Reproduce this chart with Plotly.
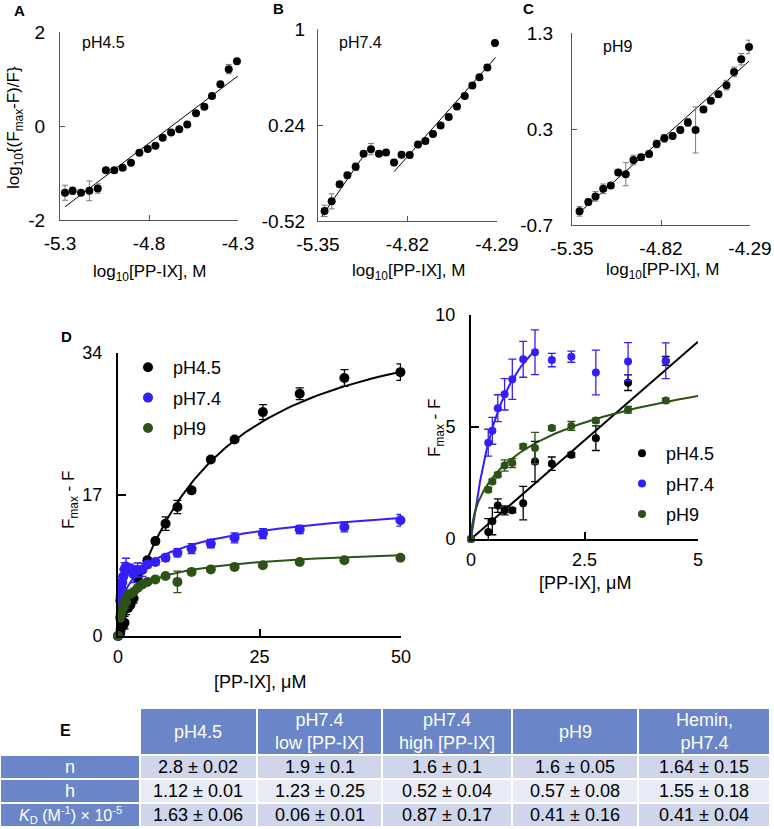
import plotly.graph_objects as go
import numpy as np

W, H = 774, 829
FONT = "Liberation Sans, Arial, sans-serif"

# ---------------- Panel A (pH4.5, Hill plot) ----------------
a_x = [-5.272, -5.229, -5.182, -5.135, -5.088, -5.042, -4.995, -4.948, -4.901, -4.854, -4.807,
       -4.764, -4.723, -4.676, -4.630, -4.585, -4.536, -4.489, -4.446, -4.399, -4.352, -4.306]
a_y = [-1.42, -1.38, -1.42, -1.38, -1.33, -0.94, -0.94, -0.89, -0.78, -0.57, -0.49,
       -0.42, -0.25, -0.14, -0.07, 0.03, 0.27, 0.41, 0.64, 0.89, 1.21, 1.38]
a_err = [0.16, 0.08, 0.05, 0.21, 0.10, 0.03, 0.03, 0.03, 0.03, 0.03, 0.03,
         0.03, 0.03, 0.03, 0.03, 0.03, 0.03, 0.03, 0.03, 0.03, 0.10, 0.03]
a_fit_x = [-5.272, -4.302]
a_fit_y = [-1.72, 1.06]

# ---------------- Panel B (pH7.4) ----------------
b_x = [-5.311, -5.269, -5.222, -5.176, -5.127, -5.080, -5.036, -4.989, -4.947, -4.900, -4.855, -4.807,
       -4.758, -4.714, -4.669, -4.624, -4.576, -4.527, -4.481, -4.436, -4.394, -4.347, -4.302]
b_y = [-0.44, -0.364, -0.229, -0.157, -0.091, 0.012, 0.049, 0.012, 0.023, -0.057, 0.004, 0.002,
       0.086, 0.113, 0.169, 0.237, 0.304, 0.386, 0.470, 0.553, 0.619, 0.696, 0.889]
b_err = [0.045, 0.06, 0.02, 0.02, 0.03, 0.02, 0.045, 0.02, 0.02, 0.02, 0.02, 0.02,
         0.02, 0.02, 0.02, 0.02, 0.02, 0.02, 0.02, 0.02, 0.02, 0.02, 0.02]
b_fit_x = [-5.33, -5.06, None, -4.90, -4.298]
b_fit_y = [-0.488, 0.036, None, -0.13, 0.775]

# ---------------- Panel C (pH9) ----------------
c_x = [-5.305, -5.253, -5.210, -5.164, -5.119, -5.075, -5.030, -4.984, -4.939, -4.891, -4.846, -4.800,
       -4.751, -4.705, -4.660, -4.614, -4.567, -4.523, -4.478, -4.430, -4.385, -4.342, -4.296]
c_y = [-0.558, -0.461, -0.402, -0.323, -0.288, -0.153, -0.171, -0.022, 0.006, 0.040, 0.144, 0.203,
       0.227, 0.290, 0.369, 0.290, 0.504, 0.594, 0.663, 0.757, 0.895, 1.027, 1.155]
c_err = [0.05, 0.03, 0.05, 0.05, 0.03, 0.03, 0.12, 0.05, 0.03, 0.03, 0.04, 0.04,
         0.03, 0.03, 0.04, 0.24, 0.03, 0.03, 0.03, 0.05, 0.05, 0.06, 0.07]
c_fit_x = [-5.32, -4.296]
c_fit_y = [-0.593, 1.006]

# ---------------- Panel D (titration) ----------------
d_x = [0, 0.38, 0.47, 0.59, 0.74, 0.91, 1.15, 1.41, 1.78, 2.21, 2.75, 3.46, 4.29,
       5.2, 6.6, 8.4, 10.5, 13.0, 16.4, 20.6, 25.6, 32.1, 40.0, 49.9]
ph45_y = [0, 0.31, 0.79, 1.49, 1.28, 1.28, 1.6, 3.46, 3.36, 3.76, 4.5, 6.98, 7.95,
          9.1, 11.4, 13.5, 15.5, 17.5, 21.2, 23.6, 26.9, 29.1, 31.0, 31.7]
ph45_err = [0, 0.6, 0.6, 0.3, 0.2, 0.1, 0.75, 0.9, 0.3, 0.1, 0.55, 0.35, 0.2,
            0.3, 0.3, 0.8, 0.8, 0.3, 0.3, 0.3, 0.9, 0.7, 1.0, 1.0]
ph74_y = [0, 4.3, 4.83, 5.84, 6.46, 7.13, 8.02, 8.34, 7.99, 8.14, 7.43, 7.92, 7.96,
          8.6, 8.9, 9.4, 10.0, 10.5, 11.1, 11.8, 12.3, 12.8, 13.1, 13.9]
ph74_err = [0, 0.6, 0.6, 0.6, 0.7, 0.9, 0.8, 1.0, 0.3, 0.25, 1.0, 0.85, 0.8,
            0.4, 0.4, 0.4, 0.5, 0.6, 0.5, 0.6, 0.6, 0.5, 0.6, 0.7]
ph9_y = [0, 2.2, 2.57, 2.87, 3.28, 3.39, 4.13, 4.06, 4.95, 5.05, 5.29, 5.77, 6.18,
         6.5, 6.8, 7.2, 6.5, 7.7, 8.0, 8.3, 8.5, 8.9, 9.1, 9.4]
ph9_err = [0, 0.1, 0.1, 0.1, 0.25, 0.2, 0.1, 0.7, 0.1, 0.2, 0.1, 0.15, 0.1,
           0.2, 0.2, 0.2, 1.3, 0.2, 0.2, 0.2, 0.2, 0.2, 0.2, 0.2]
N_INSET = 13  # points with [PP-IX] <= 4.3 uM shown in the inset

# Hill-fit parameters (Bmax, K, h)
fit_ph45 = (40.0, 15.0, 1.12)
fit_ph74_high = (20.0, 9.0, 0.52)
fit_ph74_low = (12.0, 0.65, 1.1)
fit_ph9 = (12.0, 4.0, 0.57)
inset_ph45_line_x = [0, 5]
inset_ph45_line_y = [0, 8.81]

# ---------------- Table E ----------------
tab_header = ["pH4.5", "pH7.4<br>low [PP-IX]", "pH7.4<br>high [PP-IX]", "pH9", "Hemin,<br>pH7.4"]
tab_rows = ["n", "h", "<i>K</i><sub>D</sub> (M<sup>-1</sup>) × 10<sup>-5</sup>"]
tab_n = ["2.8 ± 0.02", "1.9 ± 0.1", "1.6 ± 0.1", "1.6 ± 0.05", "1.64 ± 0.15"]
tab_h = ["1.12 ± 0.01", "1.23 ± 0.25", "0.52 ± 0.04", "0.57 ± 0.08", "1.55 ± 0.18"]
tab_kd = ["1.63 ± 0.06", "0.06 ± 0.01", "0.87 ± 0.17", "0.41 ± 0.16", "0.41 ± 0.04"]

BLACK = "#000000"
BLUE = "#331ffb"
GREEN = "#2c5215"
HDR = "#6a86c8"
ROW_DARK = "#cfd6eb"
ROW_LIGHT = "#e8ebf5"


def px(x):
    return x / W


def py(y):
    return 1 - y / H


def hill(x, p):
    b, k, h = p
    x = np.asarray(x, dtype=float)
    return b * x ** h / (k ** h + x ** h)


fig = go.Figure()

# Hill plots A, B, C
for xs, ys, es, fx, fy, ax in [(a_x, a_y, a_err, a_fit_x, a_fit_y, ""),
                               (b_x, b_y, b_err, b_fit_x, b_fit_y, "2"),
                               (c_x, c_y, c_err, c_fit_x, c_fit_y, "3")]:
    fig.add_trace(go.Scatter(x=fx, y=fy, mode="lines", line=dict(color="black", width=1),
                             xaxis="x" + ax, yaxis="y" + ax, showlegend=False, cliponaxis=False))
    fig.add_trace(go.Scatter(x=xs, y=ys, mode="markers",
                             marker=dict(color="black", size=8),
                             error_y=dict(type="data", array=es, color="#7a7a7a", thickness=1, width=3),
                             xaxis="x" + ax, yaxis="y" + ax, showlegend=False, cliponaxis=False))

# Panel D main
xc = np.concatenate([[0.0], np.geomspace(1e-3, 50, 400)])
fig.add_trace(go.Scatter(x=xc, y=hill(xc, fit_ph45), mode="lines", line=dict(color=BLACK, width=2),
                         xaxis="x4", yaxis="y4", showlegend=False))
fig.add_trace(go.Scatter(x=xc, y=hill(xc, fit_ph74_high), mode="lines", line=dict(color=BLUE, width=2),
                         xaxis="x4", yaxis="y4", showlegend=False))
fig.add_trace(go.Scatter(x=xc, y=hill(xc, fit_ph9), mode="lines", line=dict(color=GREEN, width=2),
                         xaxis="x4", yaxis="y4", showlegend=False))

for name, ys, es, col in [("pH4.5", ph45_y, ph45_err, BLACK), ("pH7.4", ph74_y, ph74_err, BLUE),
                          ("pH9", ph9_y, ph9_err, GREEN)]:
    fig.add_trace(go.Scatter(x=d_x, y=ys, mode="markers", name=name, legendgroup=name,
                             marker=dict(color=col, size=10),
                             error_y=dict(type="data", array=es, color=col, thickness=1.3, width=4),
                             xaxis="x4", yaxis="y4", cliponaxis=False, legend="legend"))

# Inset
xi = np.concatenate([[0.0], np.geomspace(1e-3, 5, 300)])
xi_low = np.concatenate([[0.0], np.geomspace(1e-3, 1.41, 200)])
fig.add_trace(go.Scatter(x=inset_ph45_line_x, y=inset_ph45_line_y, mode="lines",
                         line=dict(color=BLACK, width=2), xaxis="x5", yaxis="y5", showlegend=False))
fig.add_trace(go.Scatter(x=xi_low, y=hill(xi_low, fit_ph74_low), mode="lines",
                         line=dict(color=BLUE, width=2), xaxis="x5", yaxis="y5", showlegend=False))
fig.add_trace(go.Scatter(x=xi, y=hill(xi, fit_ph9), mode="lines",
                         line=dict(color=GREEN, width=2), xaxis="x5", yaxis="y5", showlegend=False))
for name, ys, es, col in [("pH4.5", ph45_y, ph45_err, BLACK), ("pH7.4", ph74_y, ph74_err, BLUE),
                          ("pH9", ph9_y, ph9_err, GREEN)]:
    fig.add_trace(go.Scatter(x=d_x[:N_INSET], y=ys[:N_INSET], mode="markers", name=name,
                             legendgroup=name + "i",
                             marker=dict(color=col, size=8),
                             error_y=dict(type="data", array=es[:N_INSET], color=col, thickness=1.3, width=4),
                             xaxis="x5", yaxis="y5", cliponaxis=False, legend="legend2"))


def axis(domain, rng, tickvals, ticktext, anchor, lc, lw, tl, fs, standoff):
    return dict(domain=domain, range=rng, tickvals=tickvals, ticktext=ticktext, anchor=anchor,
                showline=True, linecolor=lc, linewidth=lw, ticks="inside", ticklen=tl,
                tickcolor=lc, tickwidth=lw, showgrid=False, zeroline=False, automargin=False,
                tickfont=dict(size=fs, color="black", family=FONT), ticklabelstandoff=standoff,
                fixedrange=True)


GR = "#555555"
layout = dict(
    width=W, height=H, margin=dict(l=0, r=0, t=0, b=0, pad=0, autoexpand=False),
    paper_bgcolor="white", plot_bgcolor="white",
    font=dict(family=FONT, color="black"),
    xaxis=axis([px(60), px(238)], [-5.3, -4.3], [-5.3, -4.8, -4.3], ["-5.3", "-4.8", "-4.3"], "y", GR, 1.3, 5, 19, 6),
    yaxis=axis([py(220), py(32)], [-2, 2], [-2, 0, 2], ["-2", "0", "2"], "x", GR, 1.3, 5, 19, 10),
    xaxis2=axis([px(318), px(497)], [-5.35, -4.29], [-5.35, -4.82, -4.29], ["-5.35", "-4.82", "-4.29"], "y2", GR, 1.3, 5, 19, 6),
    yaxis2=axis([py(221), py(29)], [-0.52, 1], [-0.52, 0.24, 1], ["-0.52", "0.24", "1"], "x2", GR, 1.3, 5, 19, 8),
    xaxis3=axis([px(572), px(750)], [-5.35, -4.29], [-5.35, -4.82, -4.29], ["-5.35", "-4.82", "-4.29"], "y3", GR, 1.3, 5, 19, 6),
    yaxis3=axis([py(225), py(33)], [-0.7, 1.3], [-0.7, 0.3, 1.3], ["-0.7", "0.3", "1.3"], "x3", GR, 1.3, 5, 19, 14),
    xaxis4=axis([px(118), px(401)], [0, 50], [0, 25, 50], ["0", "25", "50"], "y4", "black", 2, 7, 18, 3),
    yaxis4=axis([py(636), py(353)], [0, 34], [0, 17, 34], ["0", "17", "34"], "x4", "black", 2, 8, 18, 10),
    xaxis5=axis([px(471), px(698)], [0, 5], [0, 2.5, 5], ["0", "2.5", "5"], "y5", "black", 2, 7, 18, 3),
    yaxis5=axis([py(539), py(315)], [0, 10], [0, 5, 10], ["0", "5", "10"], "x5", "black", 2, 8, 18, 10),
    legend=dict(x=px(123), y=py(349), xanchor="left", yanchor="top", bgcolor="rgba(0,0,0,0)",
                font=dict(size=18, family=FONT), tracegroupgap=4, itemsizing="trace", itemwidth=40),
    legend2=dict(x=px(618), y=py(435), xanchor="left", yanchor="top", bgcolor="rgba(0,0,0,0)",
                 font=dict(size=18, family=FONT), tracegroupgap=4, itemsizing="trace", itemwidth=38),
    showlegend=True,
)
fig.update_layout(**layout)

ann = []


def text(x, y, t, size, angle=0, color="black", bold=False, xanchor="center"):
    if bold:
        t = "<b>" + t + "</b>"
    ann.append(dict(x=px(x), y=py(y), xref="paper", yref="paper", text=t, showarrow=False,
                    xanchor=xanchor, yanchor="middle", textangle=angle,
                    font=dict(size=size, color=color, family=FONT)))


# panel letters
text(19, 10, "A", 15, bold=True)
text(278, 9, "B", 15, bold=True)
text(528, 9, "C", 15, bold=True)
text(66, 337, "D", 15, bold=True)
text(65, 730, "E", 16, bold=True)
# in-panel labels
text(103, 43, "pH4.5", 16)
text(360, 43, "pH7.4", 16)
text(617, 46, "pH9", 16)
# axis titles
text(15, 128, "log<sub>10</sub>{(F<sub>max</sub>-F)/F}", 17, angle=-90)
text(149, 273, "log<sub>10</sub>[PP-IX], M", 17)
text(408, 272, "log<sub>10</sub>[PP-IX], M", 17)
text(662, 271, "log<sub>10</sub>[PP-IX], M", 17)
text(70, 500, "F<sub>max</sub> - F", 17, angle=-90)
text(260, 682, "[PP-IX], μM", 18)
text(436, 428, "F<sub>max</sub> - F", 17, angle=-90)
text(585, 583, "[PP-IX], μM", 18)

# ---- table E (drawn with shapes + text) ----
col_w = [140, 117, 125, 130, 126, 132]
row_h = [47, 24, 24, 24]
x0, y0 = 0, 708
col_edges = [x0]
for w in col_w:
    col_edges.append(col_edges[-1] + w)
row_edges = [y0]
for h in row_h:
    row_edges.append(row_edges[-1] + h)

shapes = []
body = [tab_n, tab_h, tab_kd]
row_fill = [ROW_DARK, ROW_LIGHT, ROW_DARK]
for r in range(4):
    for c in range(6):
        if r == 0 and c == 0:
            continue
        if r == 0 or c == 0:
            fill = HDR
        else:
            fill = row_fill[r - 1]
        shapes.append(dict(type="rect", xref="paper", yref="paper",
                           x0=px(col_edges[c] + 1), x1=px(col_edges[c + 1] - 1),
                           y0=py(row_edges[r + 1] - 1), y1=py(row_edges[r] + 1),
                           fillcolor=fill, line=dict(width=0), layer="below"))
        cx = (col_edges[c] + col_edges[c + 1]) / 2
        cy = (row_edges[r] + row_edges[r + 1]) / 2
        if r == 0:
            text(cx, cy, tab_header[c - 1], 18, color="white")
        elif c == 0:
            text(cx, cy, tab_rows[r - 1], 18 if r < 3 else 16, color="white")
        else:
            text(cx, cy, body[r - 1][c - 1], 18)

fig.update_layout(annotations=ann, shapes=shapes)
fig.write_html("out.html", config={"displayModeBar": False},
               post_script="document.body.style.margin='0px';document.body.style.overflow='hidden';")
